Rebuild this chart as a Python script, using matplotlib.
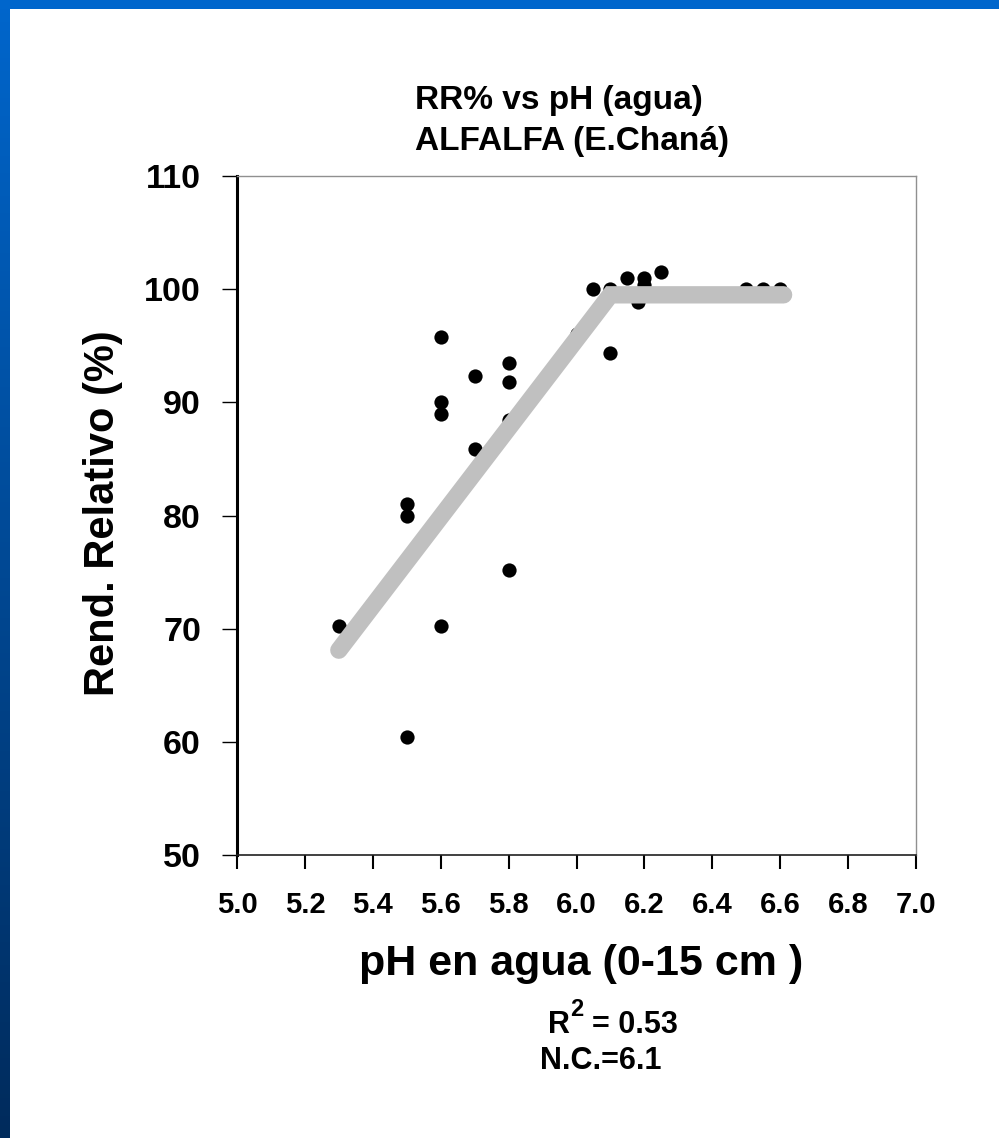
import numpy as np
import matplotlib
matplotlib.use("Agg")
from matplotlib import pyplot as plt
from matplotlib.colors import LinearSegmentedColormap

plt.rcParams['font.family'] = ['Liberation Sans', 'DejaVu Sans']
plt.rcParams['font.weight'] = 'bold'
plt.rcParams['mathtext.fontset'] = 'custom'
plt.rcParams['mathtext.rm'] = 'Liberation Sans:bold'
plt.rcParams['mathtext.bf'] = 'Liberation Sans:bold'

# Data
PH_VALUES = [5.3, 5.5, 5.5, 5.5, 5.6, 5.6, 5.6, 5.6, 5.7, 5.7,
             5.8, 5.8, 5.8, 5.8, 6.0, 6.05, 6.1, 6.1, 6.15, 6.2,
             6.2, 6.18, 6.25, 6.5, 6.55, 6.6]
RR_VALUES = [70.2, 81.0, 80.0, 60.4, 95.8, 90.0, 89.0, 70.2, 92.3, 85.9,
             93.5, 91.8, 88.4, 75.2, 96.0, 100.0, 100.0, 94.4, 101.0, 101.0,
             100.4, 98.9, 101.5, 100.0, 100.0, 100.0]

# linear-plateau fit
FIT_PH = [5.3, 6.1, 6.61]
FIT_RR = [68.1, 99.5, 99.5]

X_TICKS = [5.0, 5.2, 5.4, 5.6, 5.8, 6.0, 6.2, 6.4, 6.6, 6.8, 7.0]
Y_TICKS = [50, 60, 70, 80, 90, 100, 110]

TITLE_LINES = ["RR% vs pH (agua)", "ALFALFA (E.Chaná)"]
X_LABEL = "pH en agua (0-15 cm )"
Y_LABEL = "Rend. Relativo (%)"
R2_TEXT = "R"
R2_SUP = "2"
R2_REST = "= 0.53"
NC_TEXT = "N.C.=6.1"

W, H = 999, 1138


def fx(px):
    return px / W


def fy(py):
    return 1 - py / H


def draw_border(fig):
    # left gradient strip
    grad = LinearSegmentedColormap.from_list("edge", ["#0066cc", "#002b5c"])
    side = fig.add_axes([0, 0, fx(10), 1])
    side.imshow(np.linspace(0, 1, 256).reshape(-1, 1), aspect='auto', cmap=grad)
    side.axis('off')
    # top strip
    top = fig.add_axes([0, fy(9), 1, 9 / H])
    top.set_facecolor("#0066cc")
    top.set_xticks([]), top.set_yticks([])
    for s in top.spines.values():
        s.set_visible(False)


def main():
    fig = plt.figure(figsize=(W / 100, H / 100), dpi=100)
    fig.patch.set_facecolor("white")
    draw_border(fig)

    ax = fig.add_axes([fx(237), fy(855), fx(916 - 237), (855 - 176) / H])
    ax.scatter(PH_VALUES, RR_VALUES, s=105, color="black", linewidths=0, zorder=2)
    ax.plot(FIT_PH, FIT_RR, color="#c0c0c0", linewidth=12.5,
            solid_capstyle='round', solid_joinstyle='miter', zorder=3)

    ax.set_xlim(5.0, 7.0)
    ax.set_ylim(50, 110)
    ax.set_xticks(X_TICKS)
    ax.set_xticklabels(["%.1f" % t for t in X_TICKS])
    ax.set_yticks(Y_TICKS)

    ax.tick_params(axis='x', direction='out', length=10, width=1.5, pad=16,
                   labelsize=21)
    ax.tick_params(axis='y', direction='out', length=11, width=1.0, pad=15,
                   labelsize=24.5)
    for lab in ax.get_xticklabels() + ax.get_yticklabels():
        lab.set_fontweight('bold')

    ax.spines['left'].set_linewidth(2.2)
    ax.spines['left'].set_color("black")
    ax.spines['bottom'].set_linewidth(1.2)
    ax.spines['bottom'].set_color("#202020")
    ax.spines['top'].set_color("#909090")
    ax.spines['top'].set_linewidth(1.0)
    ax.spines['right'].set_color("#909090")
    ax.spines['right'].set_linewidth(1.0)

    # title, left aligned in two lines
    fig.text(fx(415), fy(109), TITLE_LINES[0], fontsize=24, fontweight='bold',
             ha='left', va='baseline')
    fig.text(fx(415), fy(150), TITLE_LINES[1], fontsize=24, fontweight='bold',
             ha='left', va='baseline')

    fig.text(fx(581), fy(975), X_LABEL, fontsize=31, fontweight='bold',
             ha='center', va='baseline')
    fig.text(fx(103), fy(513), Y_LABEL, fontsize=30, fontweight='bold',
             rotation=90, ha='center', va='center')

    # R^2 line drawn in pieces so the superscript stays large
    fig.text(fx(548), fy(1033), R2_TEXT, fontsize=22, fontweight='bold',
             ha='left', va='baseline')
    fig.text(fx(570), fy(1016), R2_SUP, fontsize=17, fontweight='bold',
             ha='left', va='baseline')
    fig.text(fx(592), fy(1033), R2_REST, fontsize=22, fontweight='bold',
             ha='left', va='baseline')
    fig.text(fx(540), fy(1069), NC_TEXT, fontsize=22, fontweight='bold',
             ha='left', va='baseline')

    fig.savefig("out.png", dpi=100, facecolor="white")


if __name__ == "__main__":
    main()
